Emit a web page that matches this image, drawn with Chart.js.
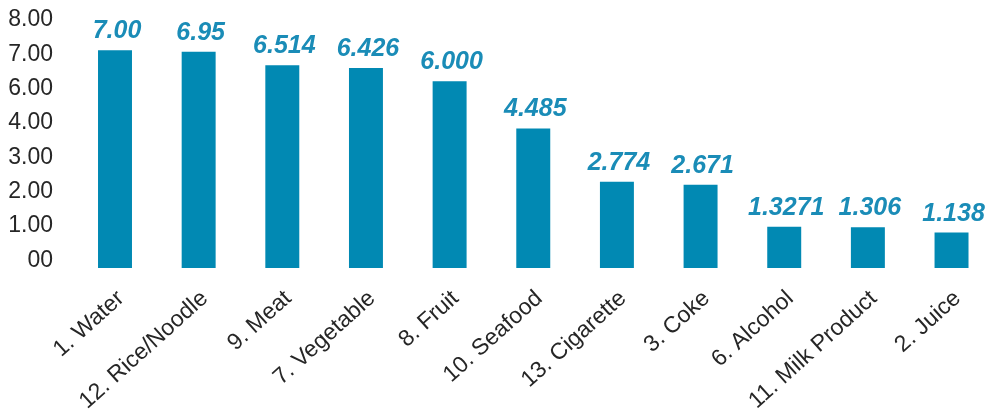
<!DOCTYPE html>
<html>
<head>
<meta charset="utf-8">
<script src="https://cdn.jsdelivr.net/npm/chart.js@4/dist/chart.umd.min.js"></script>
<style>
  html, body { margin: 0; padding: 0; background: #ffffff; }
  #wrap { width: 987px; height: 416px; }
</style>
</head>
<body>
<div id="wrap"><canvas id="chart" width="987" height="416"></canvas></div>
<script>
// Items ranked by score
const categories = ['1. Water', '12. Rice/Noodle', '9. Meat', '7. Vegetable', '8. Fruit', '10. Seafood',
                    '13. Cigarette', '3. Coke', '6. Alcohol', '11. Milk Product', '2. Juice'];
const values = [7.00, 6.95, 6.514, 6.426, 6.000, 4.485, 2.774, 2.671, 1.3271, 1.306, 1.138];
const valueLabels = ['7.00', '6.95', '6.514', '6.426', '6.000', '4.485', '2.774', '2.671', '1.3271', '1.306', '1.138'];
// Labels printed along the left side, bottom to top
const axisLabels = ['00', '1.00', '2.00', '3.00', '4.00', '6.00', '7.00', '8.00'];

const FONT = '"Liberation Sans", Arial, Helvetica, sans-serif';
const BAR_COLOR = '#0189b3';
const LABEL_COLOR = '#1a8cb7';
const TEXT_COLOR = '#262626';

// Bold italic value printed above each bar
const valueLabelPlugin = {
  id: 'valueLabels',
  afterDatasetsDraw(chart) {
    const { ctx } = chart;
    const meta = chart.getDatasetMeta(0);
    ctx.save();
    ctx.font = 'italic bold 25px ' + FONT;
    ctx.fillStyle = LABEL_COLOR;
    ctx.textAlign = 'center';
    ctx.textBaseline = 'alphabetic';
    meta.data.forEach((bar, i) => {
      ctx.fillText(valueLabels[i], bar.x + 2, bar.y - 12);
    });
    ctx.restore();
  }
};

new Chart(document.getElementById('chart'), {
  type: 'bar',
  data: {
    labels: categories,
    datasets: [{
      data: values,
      backgroundColor: BAR_COLOR,
      borderWidth: 0,
      categoryPercentage: 1,
      barPercentage: 0.406,
      clip: false
    }]
  },
  options: {
    responsive: false,
    animation: false,
    devicePixelRatio: 1,
    layout: { autoPadding: false, padding: { top: 19, right: 34, left: 0, bottom: 0 } },
    plugins: { legend: { display: false }, tooltip: { enabled: false } },
    scales: {
      x: {
        offset: false,
        grid: { display: false, drawTicks: false },
        border: { display: false },
        ticks: {
          autoSkip: false,
          minRotation: 42,
          maxRotation: 42,
          padding: 17,
          labelOffset: 6,
          color: TEXT_COLOR,
          font: { family: FONT, size: 23 }
        },
        afterFit(axis) { axis.height = 148; }
      },
      // value axis of the bars: no labels, only leaves a gap beside the plot
      y: {
        position: 'left',
        weight: 0,
        min: 0,
        max: 8,
        grid: { display: false, drawTicks: false },
        border: { display: false },
        ticks: { display: false },
        afterFit(axis) { axis.width = 62; }
      },
      // evenly spaced printed labels on the far left
      yTicks: {
        position: 'left',
        weight: 1,
        min: -0.224,
        max: 7.029,
        grid: { display: false, drawTicks: false },
        border: { display: false },
        afterBuildTicks(axis) {
          axis.ticks = axisLabels.map((_, i) => ({ value: i }));
        },
        ticks: {
          autoSkip: false,
          padding: 0,
          color: TEXT_COLOR,
          font: { family: FONT, size: 23 },
          callback: (value, index) => axisLabels[index]
        },
        afterFit(axis) { axis.width = 53; }
      }
    }
  },
  plugins: [valueLabelPlugin]
});
</script>
</body>
</html>
